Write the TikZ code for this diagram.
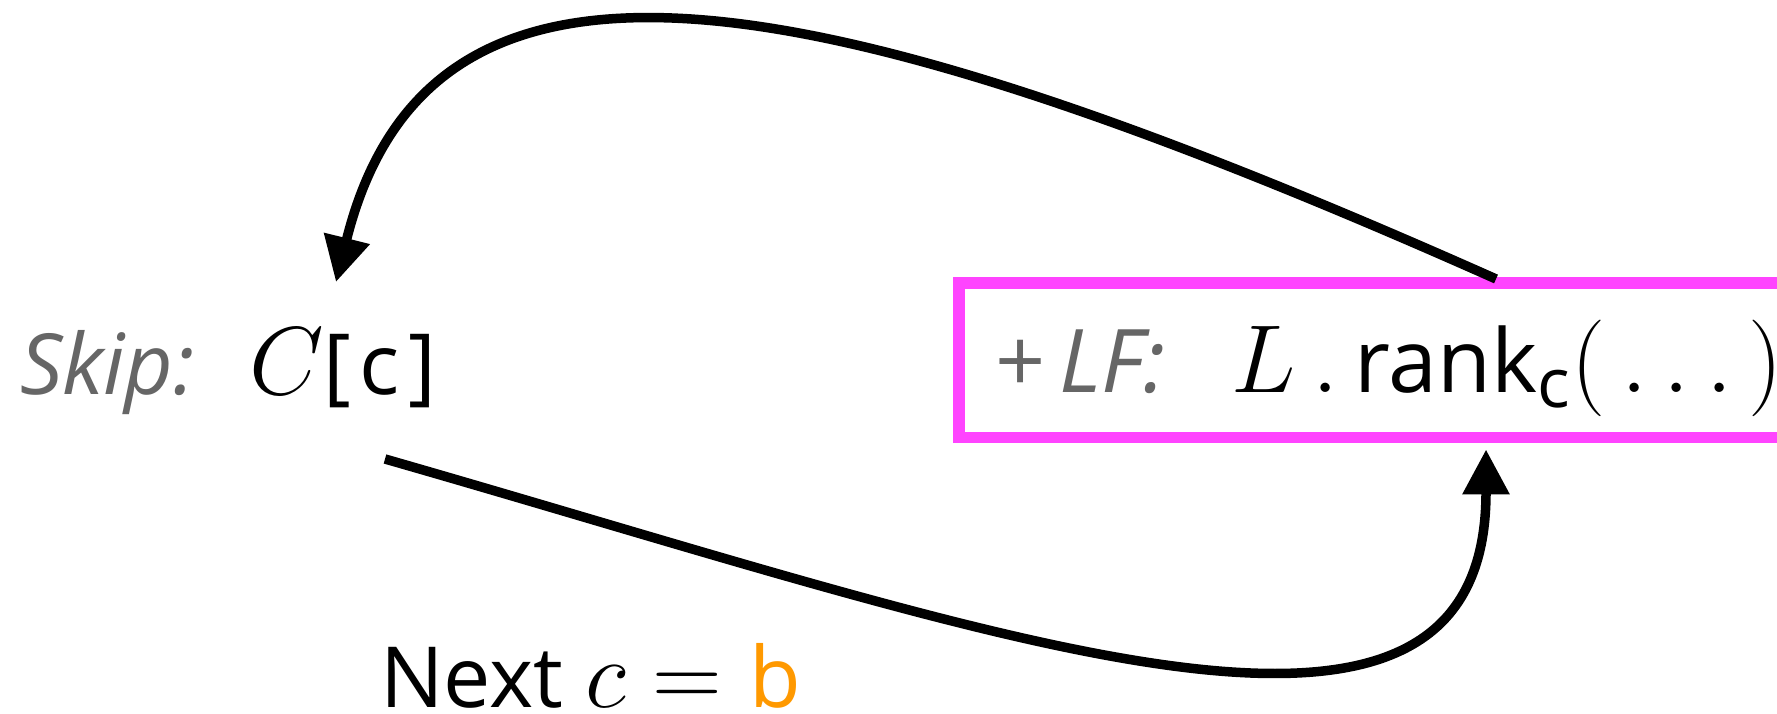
\RequirePackage{fix-cm}
\documentclass[tikz,border=0pt]{standalone}
\usepackage{fontspec}
\setmainfont{Open Sans}
\usetikzlibrary{arrows.meta,calc}
\DeclareMathSizes{48}{55}{39}{28}
\DeclareMathSizes{50}{55}{39}{28}
\definecolor{label-grey}{HTML}{666666}
\definecolor{lf-magenta}{HTML}{FF44FF}
\definecolor{next-orange}{HTML}{FF9900}

\begin{document}
\begin{tikzpicture}[x=0.02cm, y=0.02cm,
    every node/.style={inner sep=0pt, outer sep=0pt, font=\fontsize{48}{58}\selectfont},
    jump/.style={line width=0.19cm, -{Triangle[length=0.9cm, width=0.9cm]}}]
  \useasboundingbox (0,0) rectangle (1777,713);
  \clip (0,0) rectangle (1777,713);
  \node[anchor=base west, text=label-grey] (skip) at (20,318) {\itshape Skip:};
  \node[anchor=base west] (cc) at (249,318) {$C$[\kern0.1em c\kern0.1em]};
  \node[draw=lf-magenta, line width=0.23cm, anchor=north west,
    minimum width=16.9cm, minimum height=3.09cm] (lf) at (959,430) {};
  \node[anchor=base west, font=\fontsize{50}{60}\selectfont] (rank) at (995,320)
    {\textcolor{label-grey}{+\,\itshape LF:}\hskip 0.75em$L\,.\,$rank\textsubscript{c}$(\,\ldots\,)$};
  \node[anchor=base west] (next) at (380,6) {Next $c = \mbox{\color{next-orange}b}$};
  % back to the skip entry, then on to the next rank
  \draw[jump] ($(lf.north west)+(537,4)$) to[out=156, in=76, out looseness=1.7, in looseness=0.84] ($(cc.base west)+(87,113)$);
  \draw[jump] ($(cc.base west)+(136,-64)$) to[out=-16, in=-90, out looseness=1.5, in looseness=0.86] ($(lf.south west)+(527,-12)$);
\end{tikzpicture}
\end{document}
